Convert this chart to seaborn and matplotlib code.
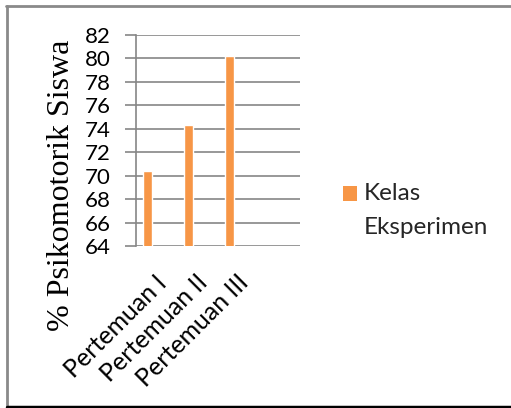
import matplotlib
matplotlib.use("Agg")
import matplotlib.pyplot as plt
import matplotlib.transforms as mtransforms
import seaborn as sns
import pandas as pd
from matplotlib.lines import Line2D
from matplotlib.patches import Patch, Rectangle
from matplotlib.legend_handler import HandlerPatch

categories = ["Pertemuan I", "Pertemuan II", "Pertemuan III"]
values = [70.4, 74.3, 80.2]
series_name = "Kelas\nEksperimen"
y_ticks = [64, 66, 68, 70, 72, 74, 76, 78, 80, 82]

df = pd.DataFrame({"cat": categories, "val": values, "series": [series_name] * 3})

sns.set_theme(style="white")
plt.rcParams['font.family'] = ['Lato', 'DejaVu Sans']

W, H = 511, 408
fig = plt.figure(figsize=(W / 100, H / 100), dpi=100)
ax = fig.add_axes([136 / W, 1 - 246 / H, 164 / W, 211 / H])

orange = "#F79646"
grid_c = "#868686"

sns.barplot(data=df, x="cat", y="val", color=orange, width=0.22, ax=ax,
            saturation=1, legend=False, zorder=3)

ax.set_ylim(64, 82)
ax.set_xlim(-0.294, 3.73)
ax.set_yticks(y_ticks)
ax.set_yticklabels([str(v) for v in y_ticks], fontsize=16, color="black")
for y in y_ticks:
    ax.axhline(y, color=grid_c, lw=1.2, zorder=1)

for s in ["top", "right", "bottom"]:
    ax.spines[s].set_visible(False)
ax.spines["left"].set_color(grid_c)
ax.spines["left"].set_linewidth(1.2)
ax.tick_params(axis="y", length=8, width=1.2, color=grid_c, pad=10.5, left=True)
ax.tick_params(axis="x", length=0, pad=0)
ax.set_xticks(range(len(categories)))
ax.set_xticklabels(categories, rotation=45, ha="right", va="center",
                   rotation_mode="anchor", fontsize=18, color="black")
offset = mtransforms.ScaledTranslation(15 / 100, -33 / 100, fig.dpi_scale_trans)
for lab in ax.get_xticklabels():
    lab.set_transform(lab.get_transform() + offset)
ax.set_xlabel("")
ax.set_ylabel("")

fig.text(62 / W, 1 - 185 / H, "% Psikomotorik Siswa", rotation=90,
         ha="center", va="center", fontsize=23, family="Liberation Serif",
         color="black")

leg_fs = 17.5
line_px = 34


def top_square(legend, orig_handle, xdescent, ydescent, width, height, fontsize):
    shift = line_px * 72 / 100 / 2
    return Rectangle((-xdescent, -ydescent + shift), width, height)


handle = Patch(facecolor=orange, edgecolor="none")
leg = fig.legend([handle], [series_name], loc="upper left",
                 bbox_to_anchor=(343 / W, 1 - 183 / H), frameon=False,
                 fontsize=leg_fs, handlelength=10 / leg_fs, handleheight=10 / leg_fs,
                 handletextpad=5 / leg_fs, borderpad=0, borderaxespad=0,
                 handler_map={Patch: HandlerPatch(patch_func=top_square)})
for t in leg.get_texts():
    t.set_linespacing(1.75)

# outer frame
fig.add_artist(Line2D([7 / W, 7 / W], [1 - 6 / H, 1 - 406 / H],
                      transform=fig.transFigure, color="#8a8a8a", lw=2))
fig.add_artist(Line2D([6 / W, 1], [1 - 6 / H, 1 - 6 / H],
                      transform=fig.transFigure, color="#8a8a8a", lw=2))
fig.add_artist(Line2D([7 / W, 1], [1 - 406.5 / H, 1 - 406.5 / H],
                      transform=fig.transFigure, color="black", lw=2.5))

fig.savefig("out.png", dpi=100)
